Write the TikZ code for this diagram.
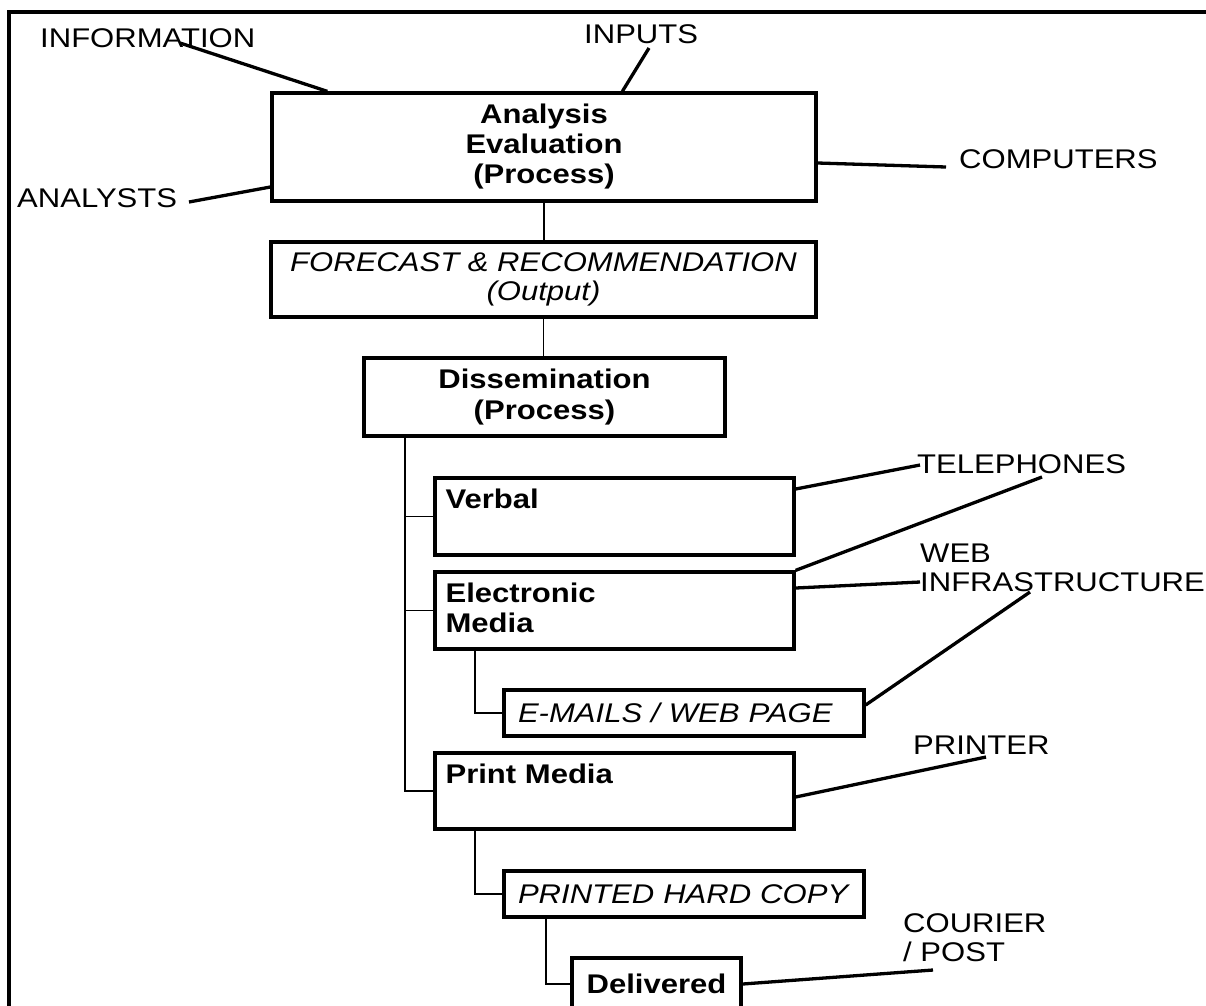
\documentclass[tikz,border=0pt]{standalone}
\usepackage{fontspec}
\setmainfont{Liberation Sans}[FakeStretch=1.15]
\usetikzlibrary{calc}
\newcommand{\txt}{\fontsize{27pt}{29pt}\selectfont}
\newcommand{\btxt}{\fontsize{27pt}{31pt}\selectfont\bfseries}
\begin{document}
\begin{tikzpicture}[x=1pt,y=-1pt,
  every node/.style={font=\txt},
  box/.style={draw, line width=3.3pt, inner sep=0pt, align=center},
  bold/.style={font=\btxt},
  ital/.style={font=\txt\itshape},
  feed/.style={line width=3.3pt},
  tree/.style={line width=1.8pt},
  lbl/.style={inner sep=0pt, align=left},
  inset/.style={anchor=north west, inner sep=0pt, align=left,
                xshift=12pt, yshift=-12pt, font=\fontsize{27pt}{30pt}\selectfont\bfseries},
]
\useasboundingbox (0,0) rectangle (1206,1005);

% open frame along the top and the left
\draw[line width=3.3pt] (9,1012) -- (9,12) -- (1215,12);

% process chain
\node[box, minimum width=544pt, minimum height=108pt,
      font=\fontsize{27pt}{30pt}\selectfont\bfseries] (ana) at (544,147)
  {Analysis\\Evaluation\\(Process)\vphantom{g}};
\node[box, ital, minimum width=545pt, minimum height=75pt] (fc) at (543.5,279.5)
  {FORECAST \& RECOMMENDATION\\(Output)};
\node[box, bold, minimum width=361pt, minimum height=78pt] (dis) at (544.5,397)
  {Dissemination\\(Process)};

% channels
\node[box, minimum width=359pt, minimum height=77pt,
      label={[inset]north west:Verbal}] (verbal) at (614.5,516.5) {};
\node[box, minimum width=359pt, minimum height=77pt,
      label={[inset]north west:{Electronic\\Media}}] (elec) at (614.5,610.5) {};
\node[box, ital, minimum width=360pt, minimum height=46pt, text width=332pt,
      align=left] (mail) at (684,713) {E-MAILS / WEB PAGE};
\node[box, minimum width=359pt, minimum height=76pt,
      label={[inset]north west:Print Media}] (print) at (614.5,791) {};
\node[box, ital, minimum width=360pt, minimum height=46pt, text width=332pt,
      align=left] (hard) at (684,894) {PRINTED HARD COPY};
\node[box, bold, minimum width=169pt, minimum height=52pt] (deliv) at (656.5,984)
  {Delivered};

% resources
\node[lbl, anchor=base west] (info) at (40,47) {INFORMATION};
\node[lbl, anchor=base west] (inputs) at (584,43) {INPUTS};
\node[lbl, anchor=base west] (comp) at (959,168) {COMPUTERS};
\node[lbl, anchor=base west] (analysts) at (17,207) {ANALYSTS};
\node[lbl, anchor=base west] (tel) at (917,473) {TELEPHONES};
\node[lbl, anchor=north west] (web) at (920,544) {WEB\\INFRASTRUCTURE};
\node[lbl, anchor=base west] (printer) at (913,754) {PRINTER};
\node[lbl, anchor=north west] (courier) at (903,913) {COURIER\\/ POST};

% tree connectors
\draw[tree] (ana.south) -- (fc.north -| ana.south);
\draw[tree] (fc.south) -- (dis.north -| fc.south);
\coordinate (trunk) at ($(dis.south west)+(43,0)$);
\draw[tree] (trunk) |- (verbal.west);
\draw[tree] (trunk) |- (elec.west);
\draw[tree] (trunk) |- (print.west);
\draw[tree] ($(elec.south west)+(42,0)$) |- (mail.west);
\draw[tree] ($(print.south west)+(42,0)$) |- (hard.west);
\draw[tree] ($(hard.south west)+(44,0)$) |- (deliv.west);

% resource links
\draw[feed] ($(info.base west)+(140,-4)$) -- ($(ana.north west)+(57,0)$);
\draw[feed] ($(inputs.base west)+(65,5)$) -- ($(ana.north west)+(352,0)$);
\draw[feed] ($(ana.east)+(0,16)$) -- ($(comp.base west)+(-13,-1)$);
\draw[feed] ($(analysts.base west)+(172,-5)$) -- ($(ana.west)+(0,40)$);
\draw[feed] ($(verbal.east)+(0,-27.5)$) -- ($(tel.base west)+(3,-8)$);
\draw[feed] (elec.north east) -- ($(tel.base west)+(125,4)$);
\draw[feed] ($(elec.east)+(0,-22.5)$) -- ($(web.north west)+(0,38)$);
\draw[feed] ($(mail.east)+(0,-8)$) -- ($(web.north west)+(110,48)$);
\draw[feed] ($(print.east)+(0,6)$) -- ($(printer.base west)+(73,3)$);
\draw[feed] (deliv.east) -- ($(courier.north west)+(30,57)$);
\end{tikzpicture}
\end{document}
